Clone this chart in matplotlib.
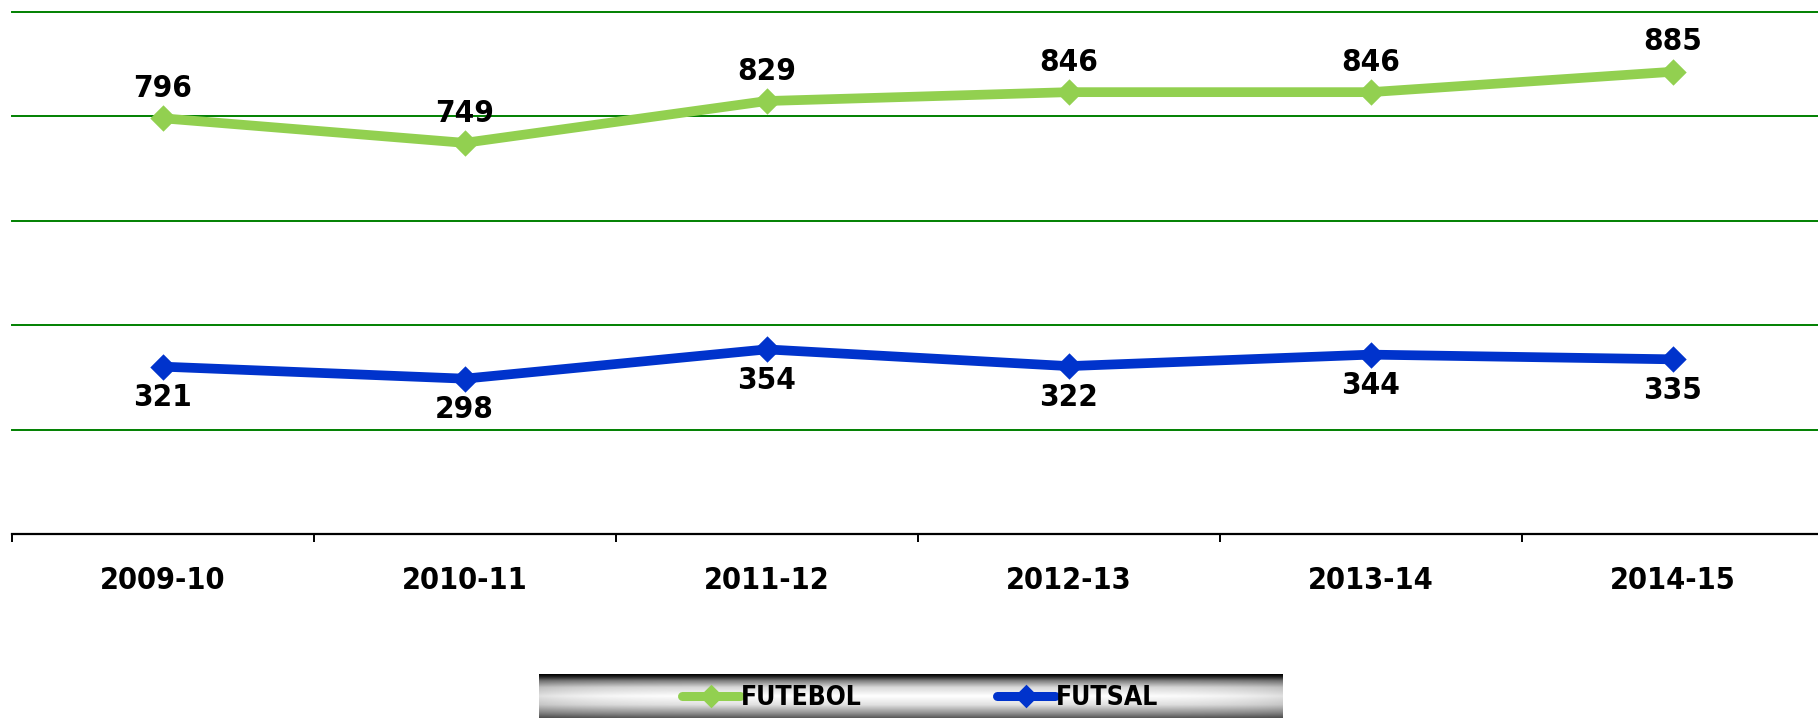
import numpy as np
import matplotlib
matplotlib.use("Agg")
import matplotlib.pyplot as plt
from matplotlib.path import Path
from matplotlib.lines import Line2D

# Data
seasons = ["2009-10", "2010-11", "2011-12", "2012-13", "2013-14", "2014-15"]
futebol = [796, 749, 829, 846, 846, 885]
futsal = [321, 298, 354, 322, 344, 335]

GREEN = "#92D050"
BLUE = "#0033CC"
FONT = ["DejaVu Sans"]

plt.rcParams["font.family"] = FONT
plt.rcParams["font.weight"] = "bold"
plt.rcParams["font.stretch"] = "condensed"

# diamond marker
diamond = Path([(0, 1), (1, 0), (0, -1), (-1, 0), (0, 1)],
               [Path.MOVETO, Path.LINETO, Path.LINETO, Path.LINETO, Path.CLOSEPOLY])

fig = plt.figure(figsize=(18.18, 7.18), dpi=100)
ax = fig.add_axes([0.0064, 0.2556, 0.9967, 0.7282])

x = np.arange(len(seasons))
ax.plot(x, futebol, color=GREEN, lw=7, marker=diamond, ms=19, mew=0, zorder=3)
ax.plot(x, futsal, color=BLUE, lw=7, marker=diamond, ms=19, mew=0, zorder=3)

for xi, v in zip(x, futebol):
    ax.annotate(str(v), (xi, v), xytext=(0, 11), textcoords="offset points",
                ha="center", va="bottom", fontsize=22.5, fontweight="heavy", fontstretch="condensed")
for xi, v in zip(x, futsal):
    ax.annotate(str(v), (xi, v), xytext=(0, -12), textcoords="offset points",
                ha="center", va="top", fontsize=22.5, fontweight="heavy", fontstretch="condensed")

# axes styling
ax.set_xlim(-0.5, len(seasons) - 0.5)
ax.set_ylim(0, 1000)
ax.set_yticks([200, 400, 600, 800, 1000])
ax.yaxis.grid(True, color="#008000", lw=1.4)
ax.tick_params(axis="y", left=False, labelleft=False)
for s in ["top", "right", "left"]:
    ax.spines[s].set_visible(False)
ax.spines["bottom"].set_linewidth(1.6)
ax.spines["bottom"].set_zorder(4)
for gl in ax.get_ygridlines():
    gl.set_clip_on(False)

ax.set_xticks(x)
ax.set_xticklabels(seasons, fontsize=22, fontweight="bold", fontstretch="condensed")
ax.tick_params(axis="x", which="major", length=0, pad=23)
ax.set_xticks(np.arange(-0.5, len(seasons), 1), minor=True)
ax.tick_params(axis="x", which="minor", length=6, width=1.4, direction="out")

# legend band with metallic gradient
lax = fig.add_axes([539 / 1818, 0, (1283 - 539) / 1818, 44 / 718])
t = np.linspace(0, 1, 100)
vert = np.interp(t, [0, 0.06, 0.15, 0.3, 0.5, 0.7, 0.9, 1.0],
                 [0.0, 0.15, 0.5, 0.85, 1.0, 0.88, 0.55, 0.35])
s = np.linspace(-1, 1, 400)
horiz = 1 - 0.12 * np.abs(s) ** 6
grad = vert[:, None] * horiz[None, :]
lax.imshow(grad, cmap="gray", vmin=0, vmax=1, aspect="auto", interpolation="bilinear")
lax.axis("off")

handles = [
    Line2D([], [], color=GREEN, lw=6.5, marker=diamond, ms=17, mew=0, solid_capstyle="round"),
    Line2D([], [], color=BLUE, lw=6.5, marker=diamond, ms=17, mew=0, solid_capstyle="round"),
]
fig.legend(handles, ["FUTEBOL", "FUTSAL"], loc="center", bbox_to_anchor=(920 / 1818, 1 - 698 / 718),
           ncol=2, frameon=False, handlelength=2.2, handletextpad=0.05, columnspacing=5.1,
           prop={"size": 19, "weight": "bold", "family": FONT, "stretch": "condensed"}, numpoints=1)

fig.savefig("out.png", dpi=100)
